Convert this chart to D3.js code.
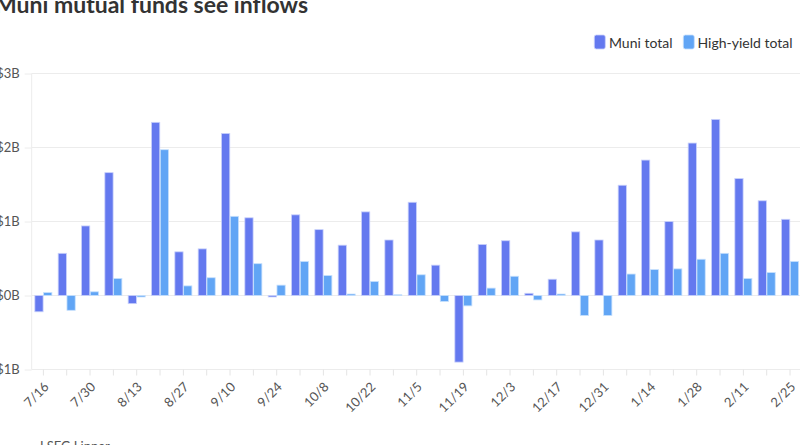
<!DOCTYPE html>
<html>
<head>
<meta charset="utf-8">
<script src="https://cdn.jsdelivr.net/npm/d3@7"></script>
<style>
  html, body { margin: 0; padding: 0; background: #fff; overflow: hidden; }
  svg { display: block; font-family: Lato, "Noto Sans", sans-serif; }
</style>
</head>
<body>
<svg id="chart" width="800" height="445"></svg>
<script>
const weeks = ["7/16","7/23","7/30","8/6","8/13","8/20","8/27","9/3","9/10","9/17","9/24","10/1","10/8","10/15","10/22","10/29","11/5","11/12","11/19","11/26","12/3","12/10","12/17","12/24","12/31","1/7","1/14","1/21","1/28","2/4","2/11","2/18","2/25"];
const muniTotal = [-0.22,0.57,0.94,1.66,-0.11,2.34,0.59,0.63,2.19,1.05,-0.02,1.09,0.89,0.68,1.13,0.75,1.26,0.41,-0.90,0.69,0.74,0.03,0.22,0.86,0.75,1.49,1.83,1.00,2.06,2.38,1.58,1.28,1.03];
const highYieldTotal = [0.04,-0.20,0.05,0.23,-0.02,1.97,0.13,0.24,1.07,0.43,0.14,0.46,0.27,0.02,0.19,0.01,0.28,-0.08,-0.14,0.10,0.26,-0.06,0.02,-0.27,-0.27,0.29,0.35,0.36,0.49,0.57,0.23,0.31,0.46];
const yTicks = [-1,0,1,2,3];
const seriesNames = ["Muni total","High-yield total"];
const colors = ["#6479ef","#61a5f5"];

const svg = d3.select("#chart");
const mLeft = 31.7, mRight = 801.7, mTop = 73.5, mBottom = 369.5;

const x = d3.scaleBand().domain(weeks).range([mLeft, mRight]).paddingInner(0.27).paddingOuter(0.135);
const sub = d3.scaleBand().domain([0,1]).range([0, x.bandwidth()]).paddingInner(0.06);
const y = d3.scaleLinear().domain([-1,3]).range([mBottom, mTop]);

// gridlines
svg.append("g").selectAll("line").data(yTicks).join("line")
  .attr("x1", mLeft).attr("x2", 800)
  .attr("y1", d => y(d)).attr("y2", d => y(d))
  .attr("stroke", "#ececec").attr("stroke-width", 1.2);

// y axis
const fmt = d => (d < 0 ? "-" : "") + "$" + Math.abs(d) + "B";
const yAxis = svg.append("g").attr("transform", `translate(${mLeft},0)`)
  .call(d3.axisLeft(y).tickValues(yTicks).tickFormat(fmt).tickSize(7).tickPadding(5));
yAxis.select(".domain").attr("stroke", "#ececec").attr("d", `M0,${mTop}V${mBottom}`);
yAxis.selectAll(".tick line").attr("stroke", "#ececec");
yAxis.selectAll("text").attr("fill", "#555").style("font-size", "13px").style("font-family", "Lato");

// x axis
const xAxis = svg.append("g").attr("transform", `translate(0,${mBottom})`)
  .call(d3.axisBottom(x).tickSize(6).tickPadding(4).tickFormat((d,i) => i % 2 === 0 ? d : ""));
xAxis.select(".domain").remove();
xAxis.selectAll(".tick line").attr("stroke", "#e4e4e4");
xAxis.selectAll("text")
  .attr("fill", "#555").style("font-size", "13px").style("font-family", "Lato")
  .attr("text-anchor", "end")
  .attr("transform", "translate(3,15) rotate(-45)")
  .attr("dy", "0.35em").attr("y", 0).attr("x", 0);

// bars
const data = weeks.map((w,i) => ({w, vals: [muniTotal[i], highYieldTotal[i]]}));
const groups = svg.append("g").selectAll("g").data(data).join("g")
  .attr("transform", d => `translate(${x(d.w)},0)`);
groups.selectAll("rect").data(d => d.vals.map((v,k) => ({v,k}))).join("rect")
  .attr("x", d => sub(d.k))
  .attr("width", sub.bandwidth())
  .attr("y", d => y(Math.max(0, d.v)))
  .attr("height", d => Math.abs(y(d.v) - y(0)))
  .attr("fill", d => colors[d.k])
  .attr("stroke", d => d.k === 0 ? "#c9d1fb" : "#c6e0fd")
  .attr("stroke-width", 0.8);

// title
svg.append("text").attr("x", 308).attr("y", 13).attr("text-anchor", "end")
  .attr("fill", "#333").style("font-size", "23px").style("font-weight", "700")
  .text("Muni mutual funds see inflows");

// legend
const legend = [{x: 594.3, tx: 609}, {x: 683.3, tx: 697.5}];
seriesNames.forEach((name, k) => {
  svg.append("rect").attr("x", legend[k].x).attr("y", 35).attr("width", 11).attr("height", 14)
    .attr("rx", 2).attr("fill", colors[k]).attr("stroke", k === 0 ? "#c9d1fb" : "#c6e0fd").attr("stroke-width", 0.8);
  svg.append("text").attr("x", legend[k].tx).attr("y", 47.5).attr("fill", "#333")
    .style("font-size", "14px").text(name);
});

// source
svg.append("text").attr("x", 40).attr("y", 451).attr("fill", "#555")
  .style("font-size", "13px").text("LSEG Lipper");
</script>
</body>
</html>
